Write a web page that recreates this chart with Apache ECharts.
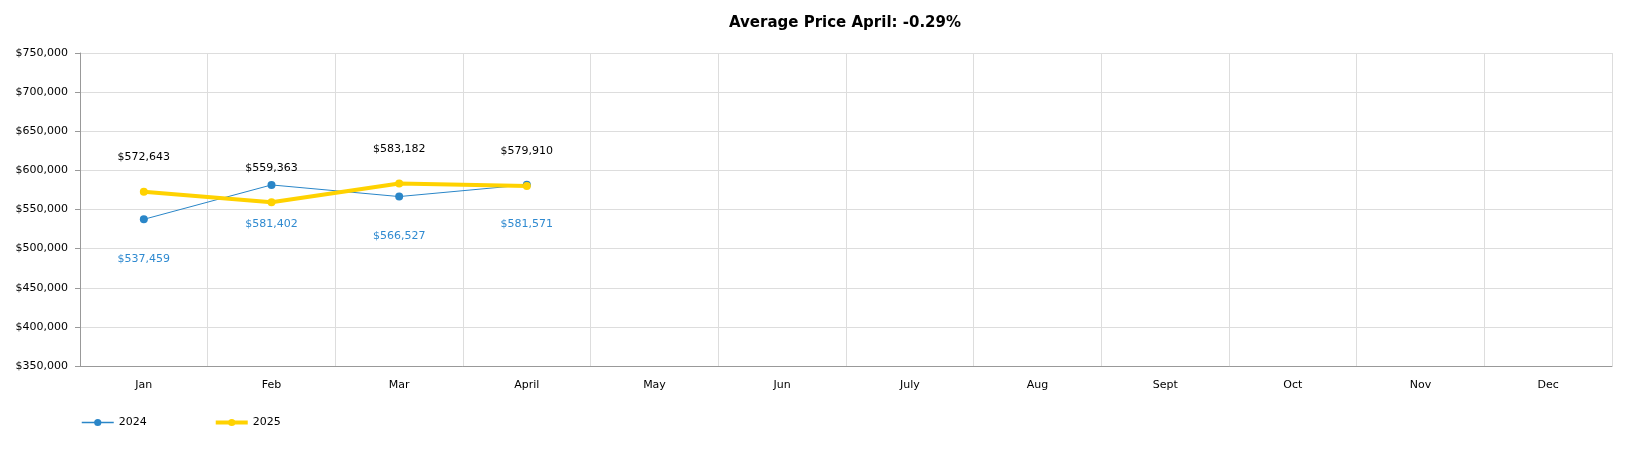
<!DOCTYPE html>
<html>
<head>
<meta charset="utf-8">
<script src="https://cdn.jsdelivr.net/npm/echarts@6/dist/echarts.min.js"></script>
<style>
  html, body { margin: 0; padding: 0; background: #fff; }
  #chart { width: 1632px; height: 450px; }
</style>
</head>
<body>
<div id="chart"></div>
<script>
const months = ['Jan', 'Feb', 'Mar', 'April', 'May', 'Jun', 'July', 'Aug', 'Sept', 'Oct', 'Nov', 'Dec']
const prices2024 = [537459, 581402, 566527, 581571]
const prices2025 = [572643, 559363, 583182, 579910]
const yMin = 350000
const yMax = 750000
const yStep = 50000

const fmt = v => '$' + v.toLocaleString('en-US')
const font = 'DejaVu Sans, Verdana, sans-serif'

const chart = echarts.init(document.getElementById('chart'))

chart.setOption({
  animation: false,
  textStyle: { fontFamily: font },
  title: {
    text: 'Average Price April: -0.29%',
    left: 840,
    top: 11,
    textAlign: 'center',
    textStyle: { fontSize: 15, fontWeight: 'bold', color: '#000', fontFamily: font },
  },
  grid: { left: 80, right: 20, top: 53, bottom: 84 },
  legend: {
    left: 81,
    top: 417,
    padding: 0,
    itemGap: 67,
    itemWidth: 32,
    itemHeight: 9,
    textStyle: { fontSize: 11, color: '#000', fontFamily: font },
    data: [
      { name: '2024', lineStyle: { width: 1.5 } },
      { name: '2025', lineStyle: { width: 4 } },
    ],
  },
  xAxis: {
    type: 'category',
    data: months,
    boundaryGap: true,
    axisLine: { lineStyle: { color: '#999' } },
    axisTick: { alignWithLabel: true, length: 5, lineStyle: { color: '#999' } },
    axisLabel: { color: '#000', fontSize: 11, margin: 14, fontFamily: font },
    splitLine: { show: true, lineStyle: { color: '#ddd' } },
  },
  yAxis: {
    type: 'value',
    min: yMin,
    max: yMax,
    interval: yStep,
    axisLine: { show: true, lineStyle: { color: '#999' } },
    axisTick: { show: true, length: 5, lineStyle: { color: '#999' } },
    axisLabel: { color: '#000', fontSize: 11, margin: 12, fontFamily: font, formatter: fmt },
    splitLine: { lineStyle: { color: '#ddd' } },
  },
  series: [
    {
      name: '2024',
      type: 'line',
      data: prices2024,
      symbol: 'circle',
      symbolSize: 8,
      lineStyle: { width: 1, color: '#2a86c8' },
      itemStyle: { color: '#2a86c8' },
      label: {
        show: true,
        position: 'bottom',
        distance: 30,
        color: '#2f8ad0',
        fontSize: 11,
        fontFamily: font,
        formatter: p => fmt(p.value),
      },
    },
    {
      name: '2025',
      type: 'line',
      data: prices2025,
      symbol: 'circle',
      symbolSize: 8,
      lineStyle: { width: 4, color: '#ffd200' },
      itemStyle: { color: '#ffd200' },
      label: {
        show: true,
        position: 'top',
        distance: 25,
        color: '#000',
        fontSize: 11,
        fontFamily: font,
        formatter: p => fmt(p.value),
      },
    },
  ],
})

window.addEventListener('resize', () => chart.resize())
</script>
</body>
</html>
